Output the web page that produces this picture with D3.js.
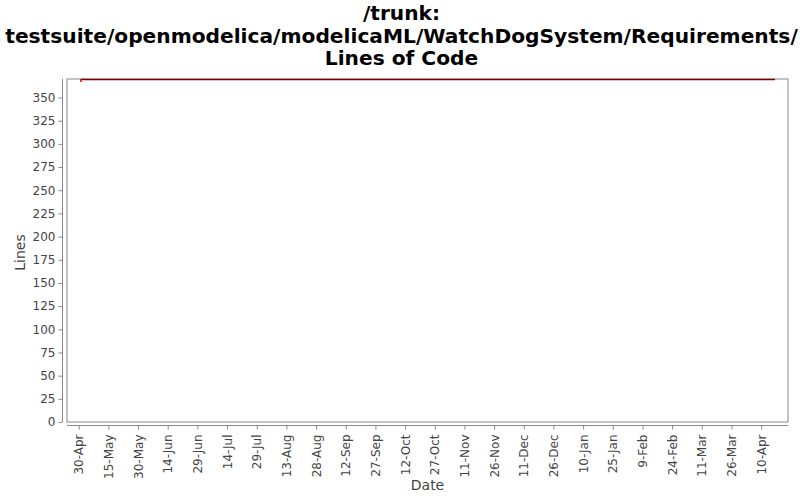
<!DOCTYPE html>
<html><head><meta charset="utf-8">
<script src="https://cdn.jsdelivr.net/npm/d3@7"></script>
<style>body{margin:0;background:#fff}svg{display:block}</style>
</head><body>
<script>
const titleLines = ["/trunk:", "testsuite/openmodelica/modelicaML/WatchDogSystem/Requirements/", "Lines of Code"];
const dates = ["2010-05-01", "2011-04-17"];
const lines = [370, 370];
const yTicks = [0,25,50,75,100,125,150,175,200,225,250,275,300,325,350];
const xTickDates = ["2010-04-30","2010-05-15","2010-05-30","2010-06-14","2010-06-29","2010-07-14","2010-07-29","2010-08-13","2010-08-28","2010-09-12","2010-09-27","2010-10-12","2010-10-27","2010-11-11","2010-11-26","2010-12-11","2010-12-26","2011-01-10","2011-01-25","2011-02-09","2011-02-24","2011-03-11","2011-03-26","2011-04-10"];
const xDomain = ["2010-04-24T02:00", "2011-04-23T14:00"];
const yMax = 370;

const W = 800, H = 500;
const pl = 67, pr = 788, pt = 79, pb = 422;
const parse = d3.isoParse;
const svg = d3.select("body").append("svg").attr("width", W).attr("height", H);

svg.selectAll("text.title").data(titleLines).enter().append("text")
  .attr("x", W/2 + 1.5).attr("y", (d,i) => 20 + i*22.5)
  .attr("text-anchor", "middle")
  .style("font-family", "'DejaVu Sans',sans-serif")
  .style("font-weight", "bold").style("font-size", "20.2px").style("fill", "#000")
  .text(d => d);

const x = d3.scaleTime().domain(xDomain.map(s => new Date(s))).range([pl, pr]);
const y = d3.scaleLinear().domain([0, yMax]).range([pb, pt]);

// plot background & frame
svg.append("rect").attr("x", pl).attr("y", pt).attr("width", pr-pl).attr("height", pb-pt)
  .attr("fill", "#fff").attr("stroke", "#888").attr("stroke-width", 1);

// y axis
const yAxis = svg.append("g").attr("transform", `translate(${pl-4.5},0)`)
  .call(d3.axisLeft(y).tickValues(yTicks).tickSize(4).tickPadding(3).tickSizeOuter(0));
yAxis.select(".domain").attr("stroke", "#888").attr("d", `M0,${pt}V${pb}`);
yAxis.selectAll(".tick line").attr("stroke", "#888");
yAxis.selectAll(".tick text").style("font-family", "'DejaVu Sans',sans-serif").style("font-size", "12px").style("fill", "#444");

// x axis
const xAxis = svg.append("g").attr("transform", `translate(0,${pb+3.5})`)
  .call(d3.axisBottom(x).tickValues(xTickDates.map(s => parse(s))).tickFormat(d3.timeFormat("%-d-%b")).tickSize(4).tickSizeOuter(0));
xAxis.select(".domain").attr("stroke", "#888").attr("d", `M${pl},0H${pr}`);
xAxis.selectAll(".tick line").attr("stroke", "#888");
xAxis.selectAll(".tick text")
  .style("font-family", "'DejaVu Sans',sans-serif").style("font-size", "12px").style("fill", "#444")
  .attr("text-anchor", "end").attr("transform", "rotate(-90)")
  .attr("x", -9).attr("y", 0).attr("dy", "0.35em");

// axis labels
svg.append("text").attr("x", (pl+pr)/2).attr("y", 490).attr("text-anchor", "middle")
  .style("font-family", "'DejaVu Sans',sans-serif").style("font-size", "14px").style("fill", "#444").text("Date");
svg.append("text").attr("transform", `translate(25,${(pt+pb)/2 + 2}) rotate(-90)`).attr("text-anchor", "middle")
  .style("font-family", "'DejaVu Sans',sans-serif").style("font-size", "14px").style("fill", "#444").text("Lines");

// data line
const data = dates.map((d,i) => ({d: parse(d), v: lines[i]}));
svg.append("path").datum(data)
  .attr("d", d3.line().x(d => x(d.d)).y(d => y(d.v)+0.5))
  .attr("fill", "none").attr("stroke", "#800000").attr("stroke-width", 1.5);
svg.append("rect").attr("x", x(data[0].d)-0.5).attr("y", y(data[0].v)).attr("width", 1.5).attr("height", 3).attr("fill", "#ff0000");
</script>
</body></html>
